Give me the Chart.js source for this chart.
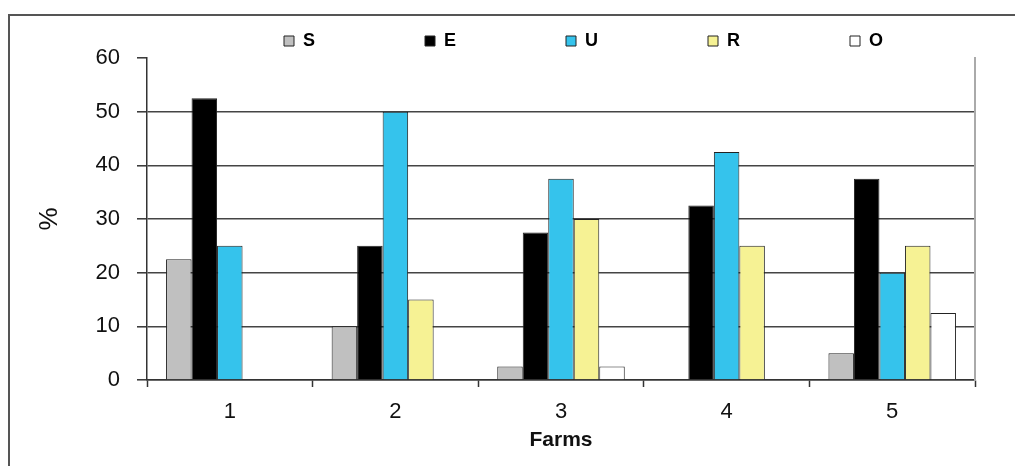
<!DOCTYPE html>
<html>
<head>
<meta charset="utf-8">
<script src="https://cdn.jsdelivr.net/npm/chart.js@4.4.1/dist/chart.umd.min.js"></script>
<style>
  html, body { margin: 0; padding: 0; background: #fff; overflow: hidden; }
  #frame { position: absolute; left: 8px; top: 14px; width: 1100px; height: 600px; border: 2px solid #555; box-sizing: border-box; }
  #wrap { position: absolute; left: 0; top: 0; width: 1015px; height: 466px; }
</style>
</head>
<body>
<div id="frame"></div>
<div id="wrap"><canvas id="c" width="1015" height="466"></canvas></div>
<script>
const categories = ['1', '2', '3', '4', '5'];
const seriesS = [22.5, 10, 2.5, 0, 5];
const seriesE = [52.5, 25, 27.5, 32.5, 37.5];
const seriesU = [25, 50, 37.5, 42.5, 20];
const seriesR = [0, 15, 30, 25, 25];
const seriesO = [0, 0, 2.5, 0, 12.5];
const yTicks = [0, 10, 20, 30, 40, 50, 60];

const FONT = "'Liberation Sans', Arial, sans-serif";
const LEGEND_PAD = 110;
const LEGEND_FONT = 18;

const legendShift = {
  id: 'legendShift',
  afterLayout(chart) {
    const lg = chart.legend;
    if (!lg) return;
    lg.left = 284 - LEGEND_PAD;
    lg.right = 5000;
    lg.top = 41 - LEGEND_FONT / 2 - LEGEND_PAD;
  }
};

function ds(label, data, color) {
  return {
    label, data,
    backgroundColor: color,
    borderColor: '#222',
    borderWidth: 1,
    categoryPercentage: 0.77,
    barPercentage: 1.0
  };
}

new Chart(document.getElementById('c'), {
  type: 'bar',
  data: {
    labels: categories,
    datasets: [
      ds('S', seriesS, '#c0c0c0'),
      ds('E', seriesE, '#000000'),
      ds('U', seriesU, '#35c3ec'),
      ds('R', seriesR, '#f6f294'),
      ds('O', seriesO, '#ffffff')
    ]
  },
  options: {
    responsive: false,
    animation: false,
    devicePixelRatio: 1,
    layout: { padding: { left: 0, right: 40, top: 0, bottom: 0 } },
    plugins: {
      tooltip: { enabled: false },
      legend: {
        position: 'top',
        align: 'start',
        maxHeight: 58,
        labels: {
          boxWidth: 10,
          boxHeight: 10,
          padding: LEGEND_PAD,
          color: '#000',
          font: { family: FONT, size: LEGEND_FONT, weight: 'bold' }
        }
      }
    },
    scales: {
      x: {
        offset: true,
        grid: {
          offset: true,
          drawOnChartArea: false,
          drawTicks: true,
          tickLength: 7,
          tickColor: '#333',
          tickWidth: 1.5
        },
        border: { display: true, color: '#333', width: 1.5 },
        ticks: {
          color: '#111',
          padding: 12,
          font: { family: FONT, size: 22 }
        },
        title: {
          display: true,
          text: 'Farms',
          color: '#111',
          font: { family: FONT, size: 21, weight: 'bold' },
          padding: { top: 0, bottom: 13 }
        },
        afterFit(scale) { scale.height = 86; }
      },
      y: {
        min: 0,
        max: 60,
        afterBuildTicks(scale) { scale.ticks = yTicks.map(v => ({ value: v })); },
        grid: {
          color: (ctx) => (ctx.tick && ctx.tick.value === 60) ? 'rgba(0,0,0,0)' : '#444',
          lineWidth: 1.6,
          tickLength: 10,
          tickColor: '#333',
          tickWidth: 1.5
        },
        border: { display: true, color: '#333', width: 1.5 },
        ticks: {
          color: '#111',
          padding: 17,
          font: { family: FONT, size: 22 }
        },
        title: {
          display: true,
          text: '%',
          color: '#111',
          font: { family: FONT, size: 26 },
          padding: { top: 34, bottom: 0 }
        },
        afterFit(scale) { scale.width = 147; }
      },
      y2: {
        position: 'right',
        display: true,
        grid: { display: false, drawTicks: false },
        ticks: { display: false },
        border: { display: true, color: '#aaa', width: 2 },
        afterFit(scale) { scale.width = 0; }
      }
    }
  },
  plugins: [legendShift]
});
</script>
</body>
</html>
